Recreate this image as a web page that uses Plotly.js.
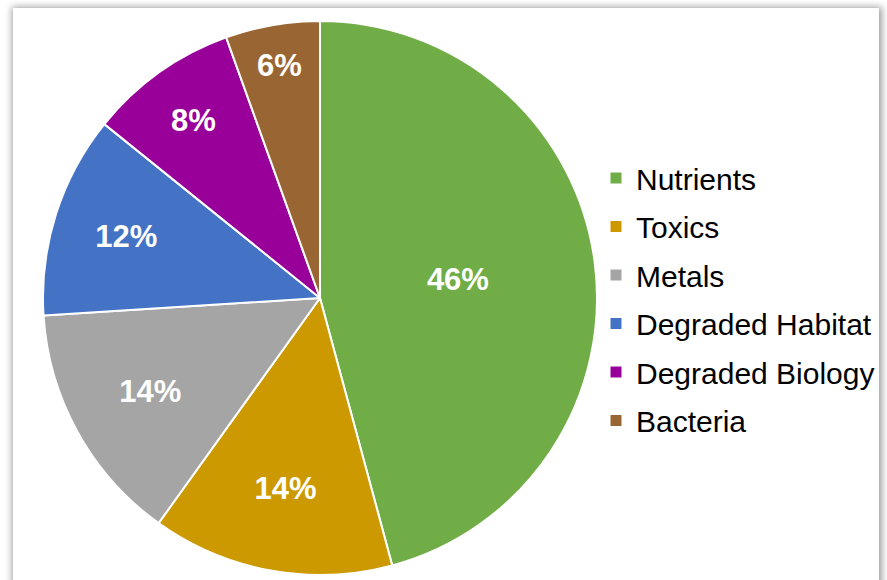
<!DOCTYPE html>
<html>
<head>
<meta charset="utf-8">
<script src="https://cdn.plot.ly/plotly-3.0.1.min.js"></script>
<style>
  html, body { margin: 0; padding: 0; background: #ffffff; width: 887px; height: 580px; overflow: hidden; }
  #panel { position: absolute; left: 13px; top: 8px; width: 866px; height: 640px; background: #ffffff;
           box-shadow: 1px 1px 7px 2px rgba(0,0,0,0.38); }
  #chart { position: absolute; left: 0; top: 0; width: 887px; height: 580px; }
</style>
</head>
<body>
<div id="panel"></div>
<div id="chart"></div>
<script>
const categories = ["Nutrients", "Toxics", "Metals", "Degraded Habitat", "Degraded Biology", "Bacteria"];
const shares = [45.8, 14.1, 14.1, 11.8, 8.7, 5.5];
// percentage labels as printed on the slices
const percentLabels = ["46%", "14%", "14%", "12%", "8%", "6%"];
const colors = ["#70AD47", "#CC9A00", "#A5A5A5", "#4472C4", "#990099", "#996633"];

const traces = [{
  type: "pie",
  labels: categories,
  values: shares,
  text: percentLabels,
  sort: false,
  direction: "clockwise",
  rotation: 0,
  showlegend: false,
  texttemplate: "%{text}",
  textposition: "inside",
  insidetextorientation: "horizontal",
  textfont: { family: "Liberation Sans, Arial, sans-serif", size: 31, color: "#ffffff", weight: "bold" },
  marker: { colors: colors, line: { color: "#ffffff", width: 2 } },
  hoverinfo: "none",
  domain: { x: [43 / 887, 597 / 887], y: [5 / 580, 559 / 580] }
}];

categories.forEach((name, i) => {
  traces.push({
    type: "scatter",
    mode: "markers",
    x: [null], y: [null],
    name: name,
    legendgroup: "g" + i,
    marker: { symbol: "square", size: 11, color: colors[i] },
    showlegend: true,
    hoverinfo: "none"
  });
});

const layout = {
  width: 887, height: 580,
  margin: { l: 0, r: 0, t: 0, b: 0 },
  paper_bgcolor: "rgba(0,0,0,0)",
  plot_bgcolor: "rgba(0,0,0,0)",
  xaxis: { visible: false },
  yaxis: { visible: false },
  showlegend: true,
  legend: {
    x: 596 / 887, xanchor: "left",
    y: 1 - 152 / 580, yanchor: "top",
    font: { family: "Liberation Sans, Arial, sans-serif", size: 30, color: "#000000" },
    tracegroupgap: 6.5,
    bgcolor: "rgba(0,0,0,0)",
    itemclick: false, itemdoubleclick: false
  }
};

Plotly.newPlot("chart", traces, layout, { staticPlot: true, displayModeBar: false });
</script>
</body>
</html>
